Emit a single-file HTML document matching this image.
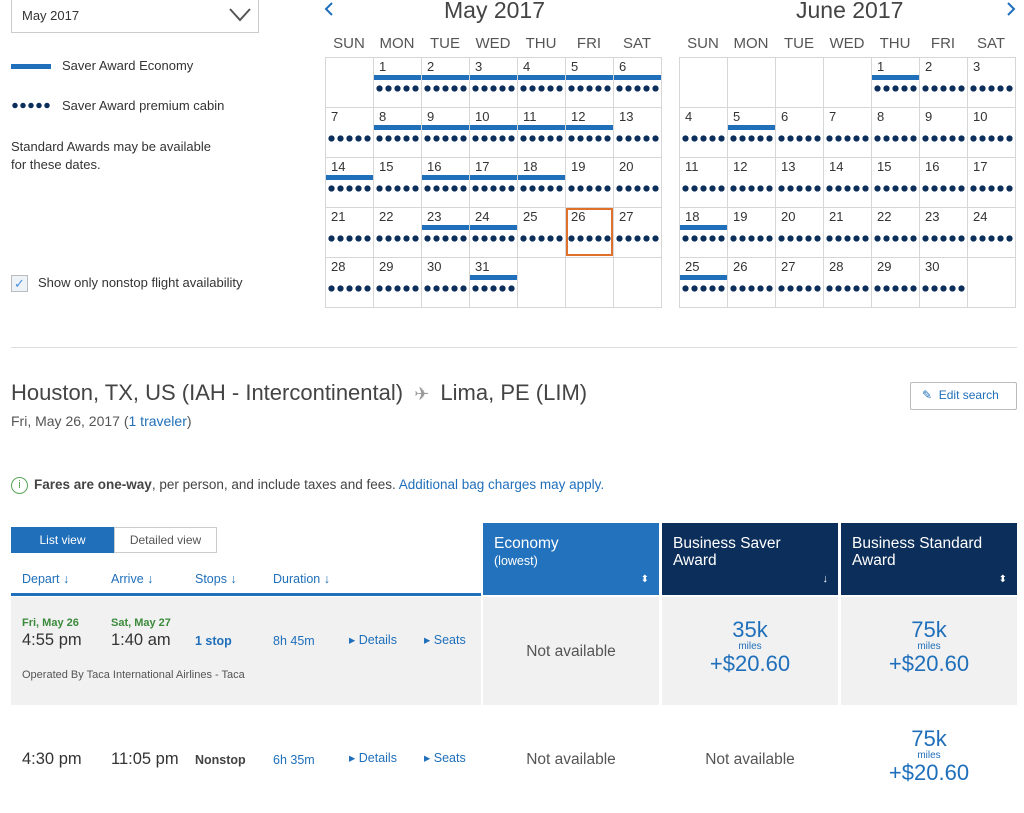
<!DOCTYPE html>
<html><head><meta charset="utf-8"><style>
*{margin:0;padding:0;box-sizing:border-box}
body{width:1024px;height:813px;background:#fff;font-family:"Liberation Sans",sans-serif;color:#333;position:relative;overflow:hidden}
.a{position:absolute;white-space:nowrap}
.blue{color:#1f6fba}
.cell{position:absolute;border:1px solid #d6d6d6;width:49px;height:51px}
.num{position:absolute;left:5px;top:1px;font-size:13px;color:#333}
.bar{position:absolute;height:5px;background:#1f6fba;top:17px}
.dots{position:absolute;top:27px;left:1px;width:45px;height:7px;background:radial-gradient(circle,#0c2e5a 2.9px,transparent 3.3px) 0 0/9px 7px repeat-x}
.hd{position:absolute;font-size:15px;color:#555;width:48px;text-align:center}
</style></head><body>
<div class="a" style="left:11px;top:0;width:248px;height:33px;border:1px solid #ccc;border-top:none"></div>
<div class="a" style="left:22px;top:8px;font-size:13px">May 2017</div>
<svg class="a" style="left:229px;top:8px" width="22" height="14"><polyline points="1,1 11,12 21,1" fill="none" stroke="#555" stroke-width="2"/></svg>
<div class="a" style="left:11px;top:64px;width:40px;height:5px;background:#1f6fba"></div>
<div class="a" style="left:62px;top:58px;font-size:13px">Saver Award Economy</div>
<div class="a" style="left:11px;top:102px;width:40px;height:7px;background:radial-gradient(circle,#0c2e5a 2.5px,transparent 2.9px) 0 0/8px 7px repeat-x"></div>
<div class="a" style="left:62px;top:98px;font-size:13px">Saver Award premium cabin</div>
<div class="a" style="left:11px;top:138px;font-size:13px;line-height:18px">Standard Awards may be available<br>for these dates.</div>
<div class="a" style="left:11px;top:275px;width:17px;height:17px;border:1px solid #bbb;background:#eef3f8;color:#4a90d9;font-size:13px;text-align:center;line-height:15px">✓</div>
<div class="a" style="left:38px;top:275px;font-size:13px">Show only nonstop flight availability</div>
<svg class="a" style="left:323px;top:1px" width="12" height="16"><polyline points="9,2 3,8 9,14" fill="none" stroke="#1f6fba" stroke-width="2"/></svg>
<svg class="a" style="left:1005px;top:1px" width="12" height="16"><polyline points="3,2 9,8 3,14" fill="none" stroke="#1f6fba" stroke-width="2"/></svg>
<div class="a" style="left:444px;top:-3px;font-size:23px;color:#444">May 2017</div>
<div class="a" style="left:796px;top:-3px;font-size:23px;color:#444">June 2017</div>
<div id="cal"></div>
<div class="a" style="left:11px;top:347px;width:1006px;height:1px;background:#ddd"></div>
<div class="a" style="left:11px;top:380px;font-size:22px;color:#444">Houston, TX, US (IAH - Intercontinental) <span style="color:#999;font-size:18px">&nbsp;✈&nbsp;</span> Lima, PE (LIM)</div>
<div class="a" style="left:11px;top:413px;font-size:14px;color:#555">Fri, May 26, 2017 (<span class="blue">1 traveler</span>)</div>
<div class="a" style="left:910px;top:382px;width:107px;height:28px;border:1px solid #bbb;border-radius:2px"></div>
<div class="a blue" style="left:922px;top:388px;font-size:12px">✎ &nbsp;Edit search</div>
<div class="a" style="left:11px;top:477px;width:17px;height:17px;border:1px solid #5aa55a;border-radius:50%;color:#5aa55a;font-size:11px;text-align:center;line-height:15px">i</div>
<div class="a" style="left:34px;top:477px;font-size:13.5px;color:#444"><b>Fares are one-way</b>, per person, and include taxes and fees. <span class="blue">Additional bag charges may apply.</span></div>
<div class="a" style="left:11px;top:527px;width:103px;height:26px;background:#1f6fba;color:#fff;font-size:12px;text-align:center;line-height:26px">List view</div>
<div class="a" style="left:114px;top:527px;width:103px;height:26px;border:1px solid #ccc;color:#555;font-size:12px;text-align:center;line-height:24px">Detailed view</div>
<div class="a blue" style="left:22px;top:572px;font-size:12.5px">Depart ↓</div>
<div class="a blue" style="left:111px;top:572px;font-size:12.5px">Arrive ↓</div>
<div class="a blue" style="left:195px;top:572px;font-size:12.5px">Stops ↓</div>
<div class="a blue" style="left:273px;top:572px;font-size:12.5px">Duration ↓</div>
<div class="a" style="left:11px;top:593px;width:470px;height:3px;background:#1f6fba"></div>
<div class="a" style="left:483px;top:523px;width:176px;height:72px;background:#2272bd;color:#fff;padding:12px 11px;font-size:15.5px;line-height:17px">Economy<br><span style="font-size:12.5px">(lowest)</span><span style="position:absolute;right:10px;top:48px;font-size:10px">⬍</span></div>
<div class="a" style="left:662px;top:523px;width:176px;height:72px;background:#0c2e5a;color:#fff;padding:12px 11px;font-size:15.5px;line-height:17px">Business Saver<br>Award<span style="position:absolute;right:10px;top:48px;font-size:11px">↓</span></div>
<div class="a" style="left:841px;top:523px;width:176px;height:72px;background:#0c2e5a;color:#fff;padding:12px 11px;font-size:15.5px;line-height:17px">Business Standard<br>Award<span style="position:absolute;right:10px;top:48px;font-size:10px">⬍</span></div>
<div class="a" style="left:11px;top:597px;width:470px;height:108px;background:#f1f1f1"></div>
<div class="a" style="left:483px;top:597px;width:176px;height:108px;background:#f1f1f1"></div>
<div class="a" style="left:662px;top:597px;width:176px;height:108px;background:#f1f1f1"></div>
<div class="a" style="left:841px;top:597px;width:176px;height:108px;background:#f1f1f1"></div>
<div class="a" style="left:22px;top:617px;font-size:11px;color:#3b8a3b;font-weight:bold">Fri, May 26</div>
<div class="a" style="left:111px;top:617px;font-size:11px;color:#3b8a3b;font-weight:bold">Sat, May 27</div>
<div class="a" style="left:22px;top:631px;font-size:16.5px">4:55 pm</div>
<div class="a" style="left:111px;top:631px;font-size:16.5px">1:40 am</div>
<div class="a blue" style="left:195px;top:634px;font-size:12.5px;font-weight:bold">1 stop</div>
<div class="a blue" style="left:273px;top:634px;font-size:12.5px">8h 45m</div>
<div class="a blue" style="left:349px;top:632px;font-size:12.5px">▸ Details</div>
<div class="a blue" style="left:424px;top:632px;font-size:12.5px">▸ Seats</div>
<div class="a" style="left:22px;top:669px;font-size:11px;color:#555">Operated By Taca International Airlines - Taca</div>
<div class="a" style="left:483px;top:643px;width:176px;text-align:center;font-size:15.5px;color:#555">Not available</div>
<div class="a blue" style="left:662px;top:619px;width:176px;text-align:center;font-size:22px;line-height:22px">35k<br><span style="font-size:10px;line-height:12px;display:block">miles</span>+$20.60</div>
<div class="a blue" style="left:841px;top:619px;width:176px;text-align:center;font-size:22px;line-height:22px">75k<br><span style="font-size:10px;line-height:12px;display:block">miles</span>+$20.60</div>
<div class="a" style="left:22px;top:750px;font-size:16.5px">4:30 pm</div>
<div class="a" style="left:111px;top:750px;font-size:16.5px">11:05 pm</div>
<div class="a" style="left:195px;top:753px;font-size:12.5px;font-weight:bold;color:#444">Nonstop</div>
<div class="a blue" style="left:273px;top:753px;font-size:12.5px">6h 35m</div>
<div class="a blue" style="left:349px;top:750px;font-size:12.5px">▸ Details</div>
<div class="a blue" style="left:424px;top:750px;font-size:12.5px">▸ Seats</div>
<div class="a" style="left:483px;top:751px;width:176px;text-align:center;font-size:15.5px;color:#555">Not available</div>
<div class="a" style="left:662px;top:751px;width:176px;text-align:center;font-size:15.5px;color:#555">Not available</div>
<div class="a blue" style="left:841px;top:728px;width:176px;text-align:center;font-size:22px;line-height:22px">75k<br><span style="font-size:10px;line-height:12px;display:block">miles</span>+$20.60</div>
<script>
var days=["SUN","MON","TUE","WED","THU","FRI","SAT"];
var h="";
function cal(x0,start,n,bars){
 for(var i=0;i<7;i++)h+='<div class="hd" style="left:'+(x0+i*48)+'px;top:35px">'+days[i]+'</div>';
 for(var r=0;r<5;r++)for(var c=0;c<7;c++){
  var d=r*7+c-start+1;var x=x0+c*48,y=57+r*50;
  h+='<div class="cell" style="left:'+x+'px;top:'+y+'px">';
  if(d>=1&&d<=n){h+='<div class="num">'+d+'</div>';
   if(bars.indexOf(d)>=0)h+='<div class="bar" style="left:0;width:47px"></div>';
   h+='<div class="dots"></div>';}
  h+='</div>';
 }
}
cal(325,1,31,[1,2,3,4,5,6,8,9,10,11,12,14,16,17,18,23,24,31]);
cal(679,4,30,[1,5,18,25]);
h+='<div class="a" style="left:566px;top:208px;width:47px;height:48px;border:2px solid #e0712c"></div>';
document.getElementById("cal").innerHTML=h;
</script>
</body></html>
